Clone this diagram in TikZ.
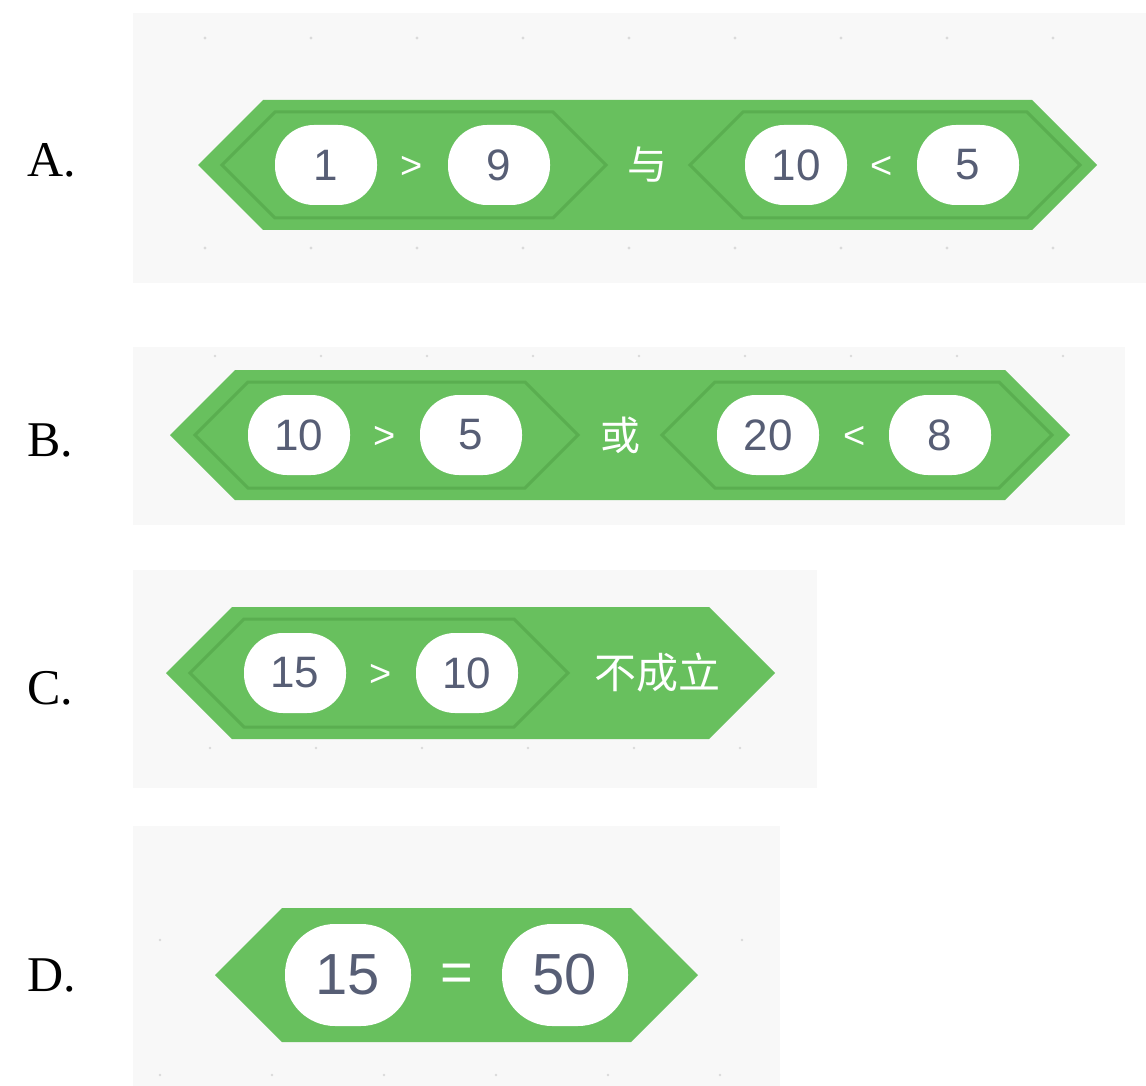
\documentclass[tikz,border=0pt]{standalone}
\usepackage{fontspec}
\setmainfont{Liberation Serif}
\setsansfont{Liberation Sans}
\newfontfamily\cjk{Noto Sans CJK SC}
\definecolor{bgpanel}{HTML}{F8F8F8}
\definecolor{blk}{HTML}{68C05E}
\definecolor{blkdark}{HTML}{5AAE50}
\definecolor{pilltext}{HTML}{575E75}
\definecolor{dotc}{HTML}{DADADA}
\newcommand\hexblk[5]{% xl, xr, ymid, h, style
  \path[#5] (#1,#3) -- (#1+#4,#3-#4) -- (#2-#4,#3-#4) -- (#2,#3) -- (#2-#4,#3+#4) -- (#1+#4,#3+#4) -- cycle;}
\begin{document}
\begin{tikzpicture}[x=1pt,y=-1pt,
  panel/.style={fill=bgpanel},
  outerhex/.style={fill=blk},
  innerhex/.style={fill=blk,draw=blkdark,line width=3pt,line join=miter},
  pill/.style={fill=white,rounded corners=39pt,minimum width=102pt,minimum height=80pt,inner sep=0pt,
    font=\sffamily\fontsize{44}{44}\selectfont,text=pilltext},
  bigpill/.style={pill,rounded corners=50pt,minimum width=126pt,minimum height=102pt,font=\sffamily\fontsize{58}{58}\selectfont},
  op/.style={text=white,inner sep=0pt,font=\sffamily\fontsize{38}{38}\selectfont},
  cjkop/.style={text=white,inner sep=0pt,font=\cjk\fontsize{40}{40}\selectfont},
  lbl/.style={anchor=west,inner sep=0pt,font=\fontsize{50}{50}\selectfont,text=black},
  gdot/.style={fill=dotc}]
\useasboundingbox (0,0) rectangle (1146,1086);
\fill[white] (0,0) rectangle (1146,1086);
% panels
\fill[panel] (133,13) rectangle (1146,283);
\fill[panel] (133,347) rectangle (1125,525);
\fill[panel] (133,570) rectangle (817,788);
\fill[panel] (133,826) rectangle (780,1086);
% grid dots
\foreach \x in {205,311,...,1060} {\fill[gdot] (\x,38) circle (1.6pt); \fill[gdot] (\x,248) circle (1.6pt);}
\foreach \x in {215,321,...,1070} {\fill[gdot] (\x,356) circle (1.4pt);}
\foreach \x in {210,316,...,800} {\fill[gdot] (\x,748) circle (1.4pt);}
\fill[gdot] (160,940) circle (1.4pt); \fill[gdot] (742,940) circle (1.4pt);
\foreach \x in {160,272,...,760} {\fill[gdot] (\x,1075) circle (1.4pt);}
% labels
\node[lbl] (la) at (27,160) {A.};
\node[lbl] (lb) at (27,440) {B.};
\node[lbl] (lc) at (27,688) {C.};
\node[lbl] (ld) at (27,975) {D.};
% ---- A ----
\hexblk{198}{1097}{165}{65}{outerhex}
\hexblk{222}{606}{165}{53}{innerhex}
\hexblk{690}{1080}{165}{53}{innerhex}
\node[pill] (a1) at (326,165) {1};
\node[op] (agt) at (412,167) {>};
\node[pill] (a9) at (499,165) {9};
\node[cjkop] (aand) at (647,165) {与};
\node[pill] (a10) at (796,165) {10};
\node[op] (alt) at (882,167) {<};
\node[pill] (a5) at (968,165) {5};
% ---- B ----
\hexblk{170}{1070}{435}{65}{outerhex}
\hexblk{195}{578}{435}{53}{innerhex}
\hexblk{662}{1052}{435}{53}{innerhex}
\node[pill] (b10) at (299,435) {10};
\node[op] (bgt) at (385,437) {>};
\node[pill] (b5) at (471,435) {5};
\node[cjkop] (bor) at (620,435) {或};
\node[pill] (b20) at (768,435) {20};
\node[op] (blt) at (855,437) {<};
\node[pill] (b8) at (940,435) {8};
% ---- C ----
\hexblk{166}{775}{673}{66}{outerhex}
\hexblk{190}{568}{673}{54}{innerhex}
\node[pill] (c15) at (295,673) {15};
\node[op] (cgt) at (381,675) {>};
\node[pill] (c10) at (467,673) {10};
\node[cjkop,font=\cjk\fontsize{42}{42}\selectfont] (cnot) at (657,673) {不成立};
% ---- D ----
\hexblk{215}{698}{975}{67}{outerhex}
\node[bigpill] (d15) at (348,975) {15};
\node[op,font=\sffamily\fontsize{56}{56}\selectfont] (deq) at (457,978) {=};
\node[bigpill] (d50) at (565,975) {50};
\end{tikzpicture}
\end{document}
